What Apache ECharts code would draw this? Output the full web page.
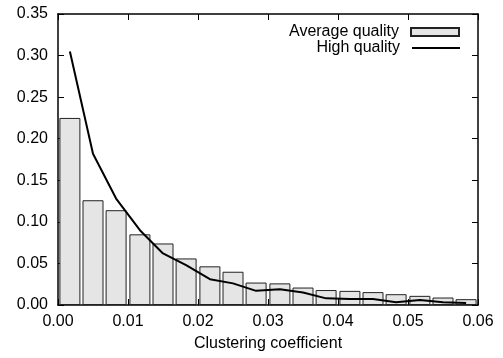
<!DOCTYPE html>
<html>
<head>
<meta charset="utf-8">
<script src="https://cdn.jsdelivr.net/npm/echarts@6/dist/echarts.min.js"></script>
<style>
  html, body {margin: 0; padding: 0; background: #fff;}
  #chart {width: 503px; height: 358px;}
</style>
</head>
<body>
<div id="chart"></div>
<script>
// bin centres of the clustering coefficient histogram
const binCenters = [0.0017, 0.0050, 0.0083, 0.0117, 0.0150, 0.0183, 0.0217, 0.0250, 0.0283,
  0.0317, 0.0350, 0.0383, 0.0417, 0.0450, 0.0483, 0.0517, 0.0550, 0.0583];
const averageQuality = [0.225, 0.126, 0.114, 0.085, 0.074, 0.056, 0.0465, 0.040, 0.027,
  0.026, 0.021, 0.018, 0.017, 0.0155, 0.013, 0.011, 0.009, 0.007];
const highQuality = [0.305, 0.182, 0.128, 0.090, 0.062, 0.048, 0.031, 0.026, 0.017,
  0.019, 0.015, 0.008, 0.0072, 0.0072, 0.0032, 0.006, 0.0032, 0.0024];
const xTicks = [0, 0.06, 0.01];      // min, max, step
const yTicks = [0, 0.35, 0.05];

const font = 'Liberation Sans';
const fs = 16;

const chart = echarts.init(document.getElementById('chart'));

const frame = {show: true, onZero: false, lineStyle: {color: '#000', width: 1.5}};
const tick = {show: true, inside: true, length: 6, lineStyle: {color: '#000', width: 1}};

chart.setOption({
  animation: false,
  textStyle: {fontFamily: font},
  grid: {left: 58, right: 25, top: 14, bottom: 53},
  legend: [
    {
      data: [{name: 'Average quality', icon: 'rect'}],
      right: 38, top: 19,
      align: 'right',
      itemWidth: 48, itemHeight: 8,
      textStyle: {fontFamily: font, fontSize: fs, color: '#000', padding: [0, 7, 0, 0]}
    },
    {
      data: [{name: 'High quality', icon: 'rect'}],
      right: 38, top: 35,
      align: 'right',
      itemWidth: 48, itemHeight: 2,
      itemStyle: {color: '#000', borderWidth: 0},
      textStyle: {fontFamily: font, fontSize: fs, color: '#000', padding: [0, 7, 0, 0]}
    }
  ],
  xAxis: [
    {
      type: 'value', position: 'bottom',
      min: xTicks[0], max: xTicks[1], interval: xTicks[2],
      name: 'Clustering coefficient', nameLocation: 'middle', nameGap: 31,
      nameTextStyle: {fontFamily: font, fontSize: fs, color: '#000'},
      axisLine: frame, axisTick: tick, splitLine: {show: false},
      axisLabel: {fontFamily: font, fontSize: fs, color: '#000', margin: 9,
        formatter: v => v.toFixed(2)}
    },
    {
      type: 'value', position: 'top',
      min: xTicks[0], max: xTicks[1], interval: xTicks[2],
      axisLine: frame, axisTick: tick, splitLine: {show: false},
      axisLabel: {show: false}
    }
  ],
  yAxis: [
    {
      type: 'value', position: 'left',
      min: yTicks[0], max: yTicks[1], interval: yTicks[2],
      axisLine: frame, axisTick: tick, splitLine: {show: false},
      axisLabel: {fontFamily: font, fontSize: fs, color: '#000', margin: 10,
        formatter: v => v.toFixed(2)}
    },
    {
      type: 'value', position: 'right',
      min: yTicks[0], max: yTicks[1], interval: yTicks[2],
      axisLine: frame, axisTick: tick, splitLine: {show: false},
      axisLabel: {show: false}
    }
  ],
  series: [
    {
      name: 'Average quality',
      type: 'bar',
      xAxisIndex: 0, yAxisIndex: 0,
      barWidth: 21,
      itemStyle: {color: '#e5e5e5', borderColor: '#222', borderWidth: 1},
      data: binCenters.map((x, i) => [x, averageQuality[i]])
    },
    {
      name: 'High quality',
      type: 'line',
      xAxisIndex: 0, yAxisIndex: 0,
      symbol: 'none',
      z: 3,
      lineStyle: {color: '#000', width: 2},
      itemStyle: {color: '#000'},
      data: binCenters.map((x, i) => [x, highQuality[i]])
    }
  ]
});
</script>
</body>
</html>
